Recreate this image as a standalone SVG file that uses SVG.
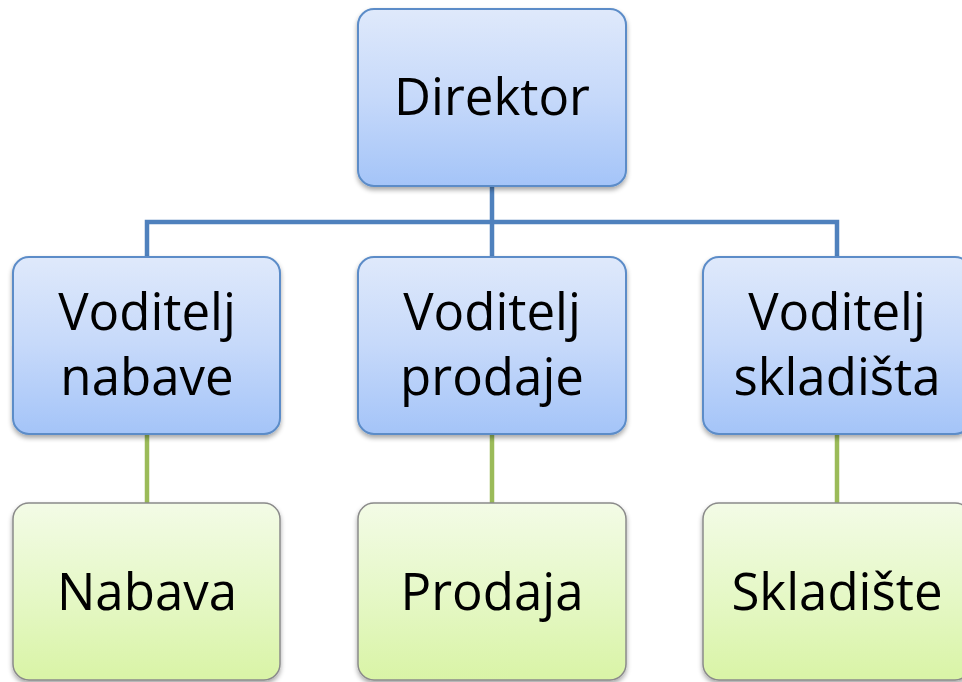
<svg xmlns="http://www.w3.org/2000/svg" width="962" height="682" viewBox="0 0 962 682">
<defs>
<linearGradient id="gBlue" x1="0" y1="0" x2="0" y2="1">
<stop offset="0" stop-color="#dfe9fb"/>
<stop offset="0.5" stop-color="#c6d9fa"/>
<stop offset="1" stop-color="#a4c4f8"/>
</linearGradient>
<linearGradient id="gGreen" x1="0" y1="0" x2="0" y2="1">
<stop offset="0" stop-color="#f3fbe6"/>
<stop offset="0.5" stop-color="#e6f8c8"/>
<stop offset="1" stop-color="#d9f4a6"/>
</linearGradient>
<filter id="sh" x="-10%" y="-10%" width="120%" height="125%">
<feGaussianBlur in="SourceAlpha" stdDeviation="2.5"/>
<feOffset dx="0" dy="3" result="b"/>
<feComponentTransfer><feFuncA type="linear" slope="0.35"/></feComponentTransfer>
<feMerge><feMergeNode/><feMergeNode in="SourceGraphic"/></feMerge>
</filter>
</defs>
<style>
.blue{fill:url(#gBlue);stroke:#5b8cc8;stroke-width:2}
.green{fill:url(#gGreen);stroke:#8a8a8a;stroke-width:1.5}
.t{font-family:"Open Sans","Noto Sans",sans-serif;font-size:51px;fill:#000;text-anchor:middle}
.cb{fill:none;stroke:#4f81bd;stroke-width:4.5}
.cg{fill:none;stroke:#9bbb59;stroke-width:4.5}
</style>
<rect width="962" height="682" fill="#ffffff"/>
<g id="connectors">
<path class="cb" d="M492 186V257M147 257V222H837V257"/>
<path class="cg" d="M147 434V503M492 434V503M837 434V503"/>
</g>
<g id="direktor">
<rect class="blue" x="358" y="9" width="268" height="177" rx="16" filter="url(#sh)"/>
<text class="t" x="492" y="115">Direktor</text>
</g>
<g id="voditelj-nabave">
<rect class="blue" x="13" y="257" width="267" height="177" rx="16" filter="url(#sh)"/>
<text class="t" x="147" y="330">Voditelj</text>
<text class="t" x="147" y="395">nabave</text>
</g>
<g id="voditelj-prodaje">
<rect class="blue" x="358" y="257" width="268" height="177" rx="16" filter="url(#sh)"/>
<text class="t" x="492" y="330">Voditelj</text>
<text class="t" x="492" y="395">prodaje</text>
</g>
<g id="voditelj-skladista">
<rect class="blue" x="703" y="257" width="268" height="177" rx="16" filter="url(#sh)"/>
<text class="t" x="837" y="330">Voditelj</text>
<text class="t" x="837" y="395">skladišta</text>
</g>
<g id="nabava">
<rect class="green" x="13" y="503" width="267" height="177" rx="16" filter="url(#sh)"/>
<text class="t" x="147" y="610">Nabava</text>
</g>
<g id="prodaja">
<rect class="green" x="358" y="503" width="268" height="177" rx="16" filter="url(#sh)"/>
<text class="t" x="492" y="610">Prodaja</text>
</g>
<g id="skladiste">
<rect class="green" x="703" y="503" width="268" height="177" rx="16" filter="url(#sh)"/>
<text class="t" x="837" y="610">Skladište</text>
</g>
</svg>
